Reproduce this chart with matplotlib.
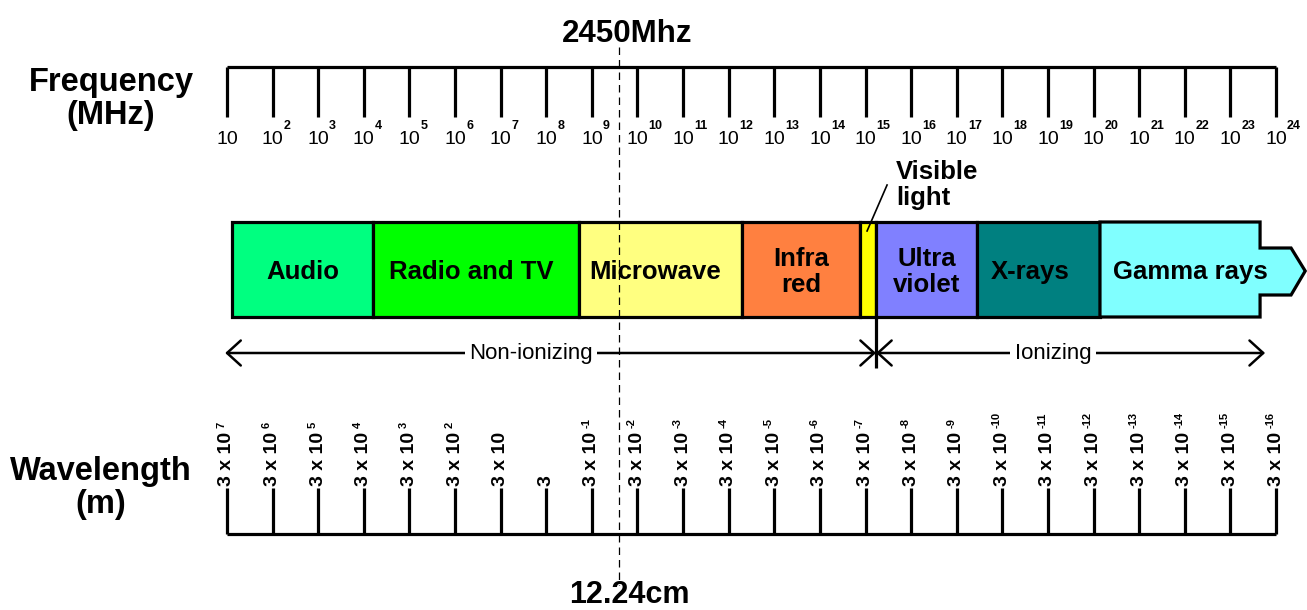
import numpy as np
import matplotlib.pyplot as plt

plt.rcParams['font.family'] = ['Liberation Sans', 'DejaVu Sans']

# frequency scale: powers of ten in MHz
freq_exponents = list(range(1, 25))
freq_sup = ['' if e == 1 else str(e) for e in freq_exponents]

# wavelength scale (m), one label per frequency tick: mantissa text + exponent
wave_main = ['3 x 10'] * 7 + ['3'] + ['3 x 10'] * 16
wave_sup = ['7', '6', '5', '4', '3', '2', '', ''] + ['-%d' % k for k in range(1, 17)]

# spectrum bands, edges given as log10(frequency / MHz)
band_names = ['Audio', 'Radio and TV', 'Microwave', 'Infra\nred', '',
              'Ultra\nviolet', 'X-rays', 'Gamma rays']
band_edges = [1.11, 4.20, 8.72, 12.29, 14.88, 15.23, 17.44, 20.14, 23.65]
band_tip = 24.64
band_colors = ['#00ff80', '#00ff00', '#ffff80', '#ff8040', '#ffff00',
               '#8080ff', '#008080', '#80ffff']
label_dx = [0, -5, -5, 0, 0, 0, -8, -12]   # label nudge, px

marker_exp = 9.59          # 2450 MHz marker line
ion_split = 15.23          # ionizing / non-ionizing border
ion_left, ion_right = 0.96, 23.76

# pixel layout helpers (1 decade = 45.61 px, 10^1 at px 227)
dec = 45.61
x0 = 1 - 227 / dec
x1 = 1 + (1307 - 227) / dec

fig = plt.figure(figsize=(13.07, 6.10), dpi=100)
ax = fig.add_axes([0, 0, 1, 1])
ax.set_xlim(x0, x1)
ax.set_ylim(610, 0)
ax.axis('off')

lw = 2.3
px = lambda p: 1 + (p - 227) / dec

# frequency ruler
ax.hlines(67, freq_exponents[0], freq_exponents[-1], color='black', lw=lw)
ax.vlines(freq_exponents, 67, 117, color='black', lw=lw)
for e, s in zip(freq_exponents, freq_sup):
    ax.text(e, 140, '10', ha='center', va='center', fontsize=14)
    if s:
        ax.text(e + 11 / dec, 126, s, ha='left', va='center', fontsize=9,
                fontweight='bold')
ax.text(px(111), 99, 'Frequency\n(MHz)', ha='center', va='center', fontsize=23.5,
        fontweight='bold', linespacing=1.05)

# wavelength ruler
ax.hlines(534, freq_exponents[0], freq_exponents[-1], color='black', lw=lw)
ax.vlines(freq_exponents, 488, 534, color='black', lw=lw)
for e, m, s in zip(freq_exponents, wave_main, wave_sup):
    t = ax.text(e, 486, m, rotation=90, ha='center', va='bottom', fontsize=14,
                fontweight='bold')
    if s:
        ax.annotate(s, xy=(0.5, 1), xycoords=t, xytext=(-4, 3),
                    textcoords='offset points', rotation=90, ha='center',
                    va='bottom', fontsize=8, fontweight='bold')
ax.text(px(101), 488, 'Wavelength\n(m)', ha='center', va='center', fontsize=23.5,
        fontweight='bold', linespacing=1.05)

# bands
top, bot = 222, 317
for i, (name, col) in enumerate(zip(band_names, band_colors)):
    a, b = band_edges[i], band_edges[i + 1]
    if i == len(band_names) - 1:
        n1 = b + 31 / dec
        xs = [a, b, b, n1, band_tip, n1, b, b, a]
        ys = [top, top, 248, 248, 271, 295, 295, bot, bot]
        ax.fill(xs, ys, facecolor=col, edgecolor='black', lw=lw,
                joinstyle='miter', zorder=2)
        cx = (a + band_tip) / 2
    else:
        ax.fill([a, b, b, a], [top, top, bot, bot], facecolor=col,
                edgecolor='black', lw=lw, joinstyle='miter', zorder=2)
        cx = (a + b) / 2
    if name:
        ax.text(cx + label_dx[i] / dec, 272, name, ha='center', va='center',
                fontsize=18.5, fontweight='bold', linespacing=1.1, zorder=3)

# visible light callout
ax.plot([band_edges[4] + 7 / dec, band_edges[4] + 27 / dec], [231, 185],
        color='black', lw=1.2, zorder=3)
ax.text(band_edges[5] + 20 / dec, 185, 'Visible\nlight', ha='left',
        va='center', fontsize=18.5, fontweight='bold', linespacing=1.1)

# ionizing arrows
aprops = dict(arrowstyle='<->,head_length=0.55,head_width=0.5', color='black',
              lw=1.8, mutation_scale=18, shrinkA=0, shrinkB=0)
ax.annotate('', xy=(ion_left, 353), xytext=(ion_split, 353), arrowprops=aprops)
ax.annotate('', xy=(ion_split, 353), xytext=(ion_right, 353), arrowprops=aprops)
ax.vlines(ion_split, bot, 368, color='black', lw=lw)
ax.text(px(531), 353, 'Non-ionizing', ha='center', va='center', fontsize=16,
        bbox=dict(facecolor='white', edgecolor='none', pad=3))
ax.text(px(1053), 353, 'Ionizing', ha='center', va='center', fontsize=16,
        bbox=dict(facecolor='white', edgecolor='none', pad=3))

# 2450 MHz marker
ax.vlines(marker_exp, 47, 585, color='black', lw=0.9, linestyles=(0, (6, 4)),
          zorder=4)
ax.text(px(627), 42, '2450Mhz', ha='center', va='baseline',
        fontsize=22.5, fontweight='bold')
ax.text(px(629), 603, '12.24cm', ha='center', va='baseline',
        fontsize=22, fontweight='bold')

fig.savefig('out.png', dpi=100)
